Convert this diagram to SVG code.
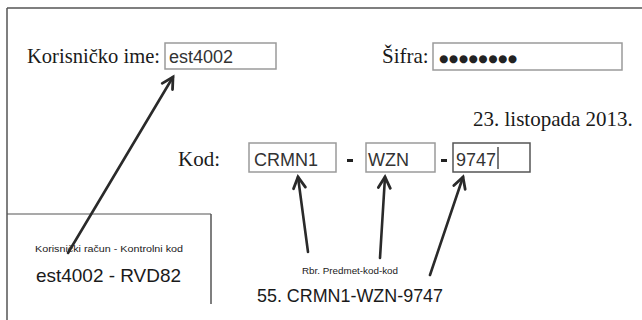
<svg xmlns="http://www.w3.org/2000/svg" width="642" height="320" viewBox="0 0 642 320">
<style>
.serif{font-family:"Liberation Serif","Times New Roman",serif;font-size:21px;fill:#1a1a1a}
.inp{font-family:"Liberation Sans",Arial,sans-serif;font-size:18px;fill:#333}
.box{fill:#fff;stroke:#9a9a9a;stroke-width:1.5}
.sans{font-family:"Liberation Sans",Arial,sans-serif;fill:#1a1a1a}
.frame{stroke:#555;stroke-width:1.5;fill:none}
.arrow{stroke:#2a2a2a;stroke-width:2.6;fill:none;stroke-linecap:round}
</style>
<defs>
<marker id="ah" markerUnits="userSpaceOnUse" viewBox="0 0 16 16" refX="14" refY="8" markerWidth="16" markerHeight="16" orient="auto" overflow="visible">
<path d="M3,2 L14,8 L3,14" fill="none" stroke="#2a2a2a" stroke-width="2.8" stroke-linecap="round" stroke-linejoin="miter"/>
</marker>
</defs>
<rect width="642" height="320" fill="#fff"/>
<g id="frame">
<line class="frame" x1="7" y1="8" x2="642" y2="8"/>
<line class="frame" x1="7" y1="8" x2="7" y2="320"/>
</g>
<g id="username">
<text class="serif" x="27" y="63" textLength="133" lengthAdjust="spacingAndGlyphs">Korisničko ime:</text>
<rect class="box" x="165" y="43" width="111" height="26"/>
<text class="inp" x="169" y="63" font-size="17">est4002</text>
</g>
<g id="password">
<text class="serif" x="382" y="63">Šifra:</text>
<rect class="box" x="433" y="43" width="189" height="27"/>
<text x="439" y="62" font-family="'DejaVu Sans',sans-serif" font-size="10.5" fill="#222" textLength="78" lengthAdjust="spacing">●●●●●●●●</text>
</g>
<g id="date">
<text class="serif" x="473" y="126">23. listopada 2013.</text>
</g>
<g id="kod">
<text class="serif" x="178" y="166">Kod:</text>
<rect class="box" x="249" y="143" width="87" height="29"/>
<text class="inp" x="254" y="166">CRMN1</text>
<rect x="347" y="159" width="6" height="3" fill="#222"/>
<rect class="box" x="366" y="143" width="69" height="29"/>
<text class="inp" x="368" y="166">WZN</text>
<rect x="441" y="159" width="6" height="3" fill="#222"/>
<rect x="453" y="143" width="77" height="29" fill="#fff" stroke="#555" stroke-width="1.5"/>
<text class="inp" x="456" y="166">9747</text>
<line x1="498" y1="147" x2="498" y2="169" stroke="#222" stroke-width="1.2"/>
</g>
<g id="account-box">
<line x1="7" y1="214" x2="211" y2="214" stroke="#555" stroke-width="1.2"/>
<line x1="211" y1="214" x2="211" y2="304" stroke="#555" stroke-width="1.5"/>
<text class="sans" x="35" y="252" font-size="9.5" fill="#444" textLength="148" lengthAdjust="spacingAndGlyphs">Korisnički račun - Kontrolni kod</text>
<text class="sans" x="36" y="282" font-size="19" textLength="145" lengthAdjust="spacingAndGlyphs">est4002 - RVD82</text>
</g>
<g id="code-label">
<text class="sans" x="302" y="274" font-size="9.5" fill="#444" textLength="96" lengthAdjust="spacingAndGlyphs">Rbr. Predmet-kod-kod</text>
<text class="sans" x="257" y="302" font-size="19" textLength="186" lengthAdjust="spacingAndGlyphs">55. CRMN1-WZN-9747</text>
</g>
<g id="connectors">
<line class="arrow" x1="68" y1="253" x2="173" y2="77" marker-end="url(#ah)"/>
<line class="arrow" x1="308" y1="252" x2="298" y2="177" marker-end="url(#ah)"/>
<line class="arrow" x1="380" y1="258" x2="385" y2="177" marker-end="url(#ah)"/>
<line class="arrow" x1="430" y1="275" x2="463" y2="177" marker-end="url(#ah)"/>
</g>
</svg>
